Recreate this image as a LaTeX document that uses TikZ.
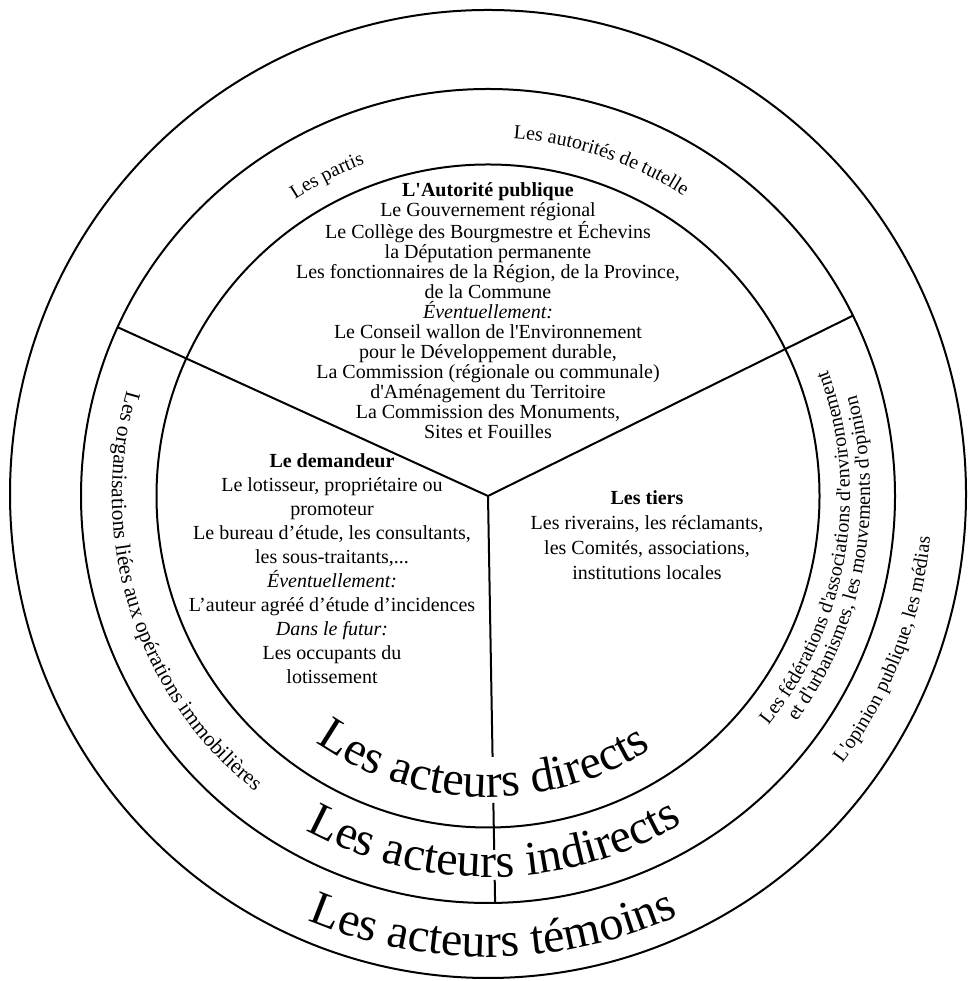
\documentclass[tikz,border=0pt]{standalone}
\usepackage{fontspec}
\setmainfont{Liberation Serif}[Ligatures=TeXOff]
\usetikzlibrary{decorations.text}
\newcommand\smallfnt{\fontsize{20}{20}\selectfont}
\newcommand\leftfnt{\fontsize{21.5}{21.5}\selectfont}
\newcommand\bigfnt{\fontsize{48}{48}\selectfont}
\begin{document}
\begin{tikzpicture}[x=1pt,y=1pt,
  ring/.style={line width=2pt},
  divider/.style={line width=2pt},
  block/.style={align=center, inner sep=0pt, anchor=north}]
\useasboundingbox (0,0) rectangle (969,981);
\coordinate (C) at (488,485);
\coordinate (O) at (488,487);
% circles
\draw[ring] (O) ellipse[x radius=478, y radius=484];
\draw[ring] (C) circle[radius=407];
\draw[ring] (C) circle[radius=331.5];
% dividers
\draw[divider] (C) -- ([shift={(155.5:407)}]C);
\draw[divider] (C) -- ([shift={(26.3:407)}]C);
\draw[divider] (C) -- ([shift={(-89:261)}]C);
\draw[divider] ([shift={(-89:307)}]C) -- ([shift={(-89:354)}]C);
\draw[divider] ([shift={(-89:384)}]C) -- ([shift={(-89:407)}]C);
% sector texts
\node[block, font={\fontsize{20}{20}\selectfont}] (autorite) at (488,799)
 {\textbf{L'Autorité publique}\\Le Gouvernement régional\\Le Collège des Bourgmestre et Échevins\\la Députation permanente\\Les fonctionnaires de la Région, de la Province,\\de la Commune\\\textit{Éventuellement:}\\Le Conseil wallon de l'Environnement\\pour le Développement durable,\\La Commission (régionale ou communale)\\d'Aménagement du Territoire\\La Commission des Monuments,\\Sites et Fouilles};
\node[block, font={\fontsize{20}{24}\selectfont}] (demandeur) at (332,528)
 {\textbf{Le demandeur}\\Le lotisseur, propriétaire ou\\promoteur\\Le bureau d’étude, les consultants,\\les sous-traitants,...\\\textit{Éventuellement:}\\L’auteur agréé d’étude d’incidences\\\textit{Dans le futur:}\\Les occupants du\\lotissement};
\node[block, font={\fontsize{20}{25}\selectfont}] (tiers) at (647,491)
 {\textbf{Les tiers}\\Les riverains, les réclamants,\\les Comités, associations,\\institutions locales};
% curved texts, middle ring
\path[shift={(488,485)}, decorate, decoration={text along path, text align=center,
  text={|\smallfnt|Les partis}}] (146.7:354) arc[start angle=146.7, end angle=86.7, radius=354];
\path[shift={(488,485)}, decorate, decoration={text along path, text align=center,
  text={|\smallfnt|Les autorités de tutelle}}] (111.4:358) arc[start angle=111.4, end angle=31.4, radius=358];
\path[shift={(488,485)}, decorate, decoration={text along path, text align=center,
  text={|\leftfnt|Les organisations liées aux opérations immobilières}}] (152.7:376) arc[start angle=152.7, end angle=242.7, radius=376];
\path[shift={(488,485)}, decorate, decoration={text along path, text align=center,
  text={|\smallfnt|Les fédérations d'associations d'environnement}}] (-54.5:362) arc[start angle=-54.5, end angle=35.5, radius=362];
\path[shift={(488,485)}, decorate, decoration={text along path, text align=center,
  text={|\smallfnt|et d'urbanismes, les mouvements d'opinion}}] (-55.4:382) arc[start angle=-55.4, end angle=34.6, radius=382];
% outer ring
\path[shift={(488,485)}, decorate, decoration={text along path, text align=center,
  text={|\smallfnt|L'opinion publique, les médias}}] (-61.2:444) arc[start angle=-61.2, end angle=18.8, radius=444];
% big texts
\path[shift={(488,485)}, decorate, decoration={text along path, text align=center,
  text={|\bigfnt|Les acteurs directs}}] (-151:301) arc[start angle=-151, end angle=-31, radius=301];
\path[shift={(488,485)}, decorate, decoration={text along path, text align=center,
  text={|\bigfnt|Les acteurs indirects}}] (-148.9:381) arc[start angle=-148.9, end angle=-28.9, radius=381];
\path[shift={(488,485)}, decorate, decoration={text along path, text align=center,
  text={|\bigfnt|Les acteurs témoins}}] (-139.3:461) arc[start angle=-139.3, end angle=-39.3, radius=461];
\end{tikzpicture}
\end{document}
